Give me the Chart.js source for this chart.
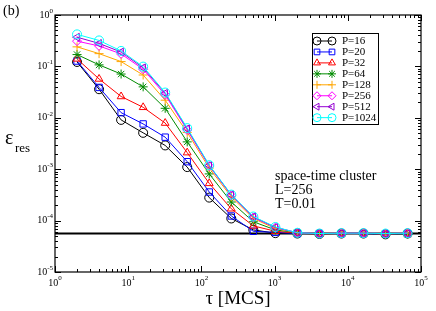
<!DOCTYPE html>
<html>
<head>
<meta charset="utf-8">
<script src="https://cdn.jsdelivr.net/npm/chart.js@4/dist/chart.umd.min.js"></script>
<style>
  body { margin: 0; background: #fff; }
  #wrap { width: 436px; height: 311px; }
</style>
</head>
<body>
<div id="wrap"><canvas id="chart" width="436" height="311"></canvas></div>
<script>
// MC steps (x values)
const tau = [2, 4, 8, 16, 32, 64, 128, 256, 512, 1024, 2048, 4096, 8192, 16384, 32768, 65536];

// residual energy for each P
const p16   = [0.122, 0.036, 0.0091, 0.0051, 0.0029, 0.0011, 2.8e-4, 1.1e-4, 6.6e-5, 5.7e-5, 5.6e-5, 5.5e-5, 5.6e-5, 5.6e-5, 5.4e-5, 5.6e-5];
const p20   = [0.127, 0.039, 0.0126, 0.0076, 0.0042, 0.0014, 3.6e-4, 1.23e-4, 6.2e-5, 5.9e-5, 5.6e-5, 5.6e-5, 5.6e-5, 5.6e-5, 5.5e-5, 5.6e-5];
const p32   = [0.14, 0.057, 0.026, 0.016, 0.0079, 0.0021, 5.3e-4, 1.7e-4, 7.9e-5, 6.2e-5, 5.7e-5, 5.5e-5, 5.7e-5, 5.7e-5, 5.5e-5, 5.7e-5];
const p64   = [0.17, 0.107, 0.071, 0.040, 0.0153, 0.0034, 8.1e-4, 2.3e-4, 9.5e-5, 6.6e-5, 5.8e-5, 5.6e-5, 5.7e-5, 5.7e-5, 5.5e-5, 5.5e-5];
const p128  = [0.24, 0.177, 0.124, 0.068, 0.022, 0.0052, 1.05e-3, 2.9e-4, 1.1e-4, 7.0e-5, 5.8e-5, 5.6e-5, 5.7e-5, 5.7e-5, 5.5e-5, 5.7e-5];
const p256  = [0.31, 0.25, 0.175, 0.088, 0.028, 0.0058, 1.15e-3, 3.1e-4, 1.15e-4, 7.3e-5, 5.8e-5, 5.6e-5, 5.7e-5, 5.7e-5, 5.6e-5, 5.7e-5];
const p512  = [0.37, 0.28, 0.19, 0.094, 0.030, 0.0061, 1.18e-3, 3.15e-4, 1.18e-4, 7.4e-5, 5.8e-5, 5.6e-5, 5.7e-5, 5.7e-5, 5.5e-5, 5.6e-5];
const p1024 = [0.42, 0.32, 0.20, 0.099, 0.031, 0.0063, 1.2e-3, 3.2e-4, 1.2e-4, 7.5e-5, 5.8e-5, 5.6e-5, 5.7e-5, 5.7e-5, 5.6e-5, 5.7e-5];

// ground-state reference line
const refLevel = 5.6e-5;
const refRange = [1, 1e5];

// axis tick decades
const xDecades = [0, 1, 2, 3, 4, 5];
const yDecades = [-5, -4, -3, -2, -1, 0];

const seriesNames = ['P=16', 'P=20', 'P=32', 'P=64', 'P=128', 'P=256', 'P=512', 'P=1024'];
const seriesData = [p16, p20, p32, p64, p128, p256, p512, p1024];
const colors = ['#000000', '#0000ff', '#ff0000', '#008b00', '#ffa500', '#ff00ff', '#9400d3', '#00ffff'];
const styles = ['circle', 'rect', 'triangle', 'star', 'cross', 'rectRot', 'triangle', 'circle'];
const rotations = [0, 0, 0, 0, 0, 0, -90, 0];

const datasets = seriesData.map((vals, i) => ({
    label: seriesNames[i],
    data: vals.map((v, j) => ({ x: tau[j], y: v })),
    borderColor: colors[i],
    backgroundColor: 'rgba(0,0,0,0)',
    borderWidth: 1,
    pointStyle: styles[i],
    pointRotation: rotations[i],
    pointRadius: 4.5,
    pointBorderWidth: 1,
    pointBorderColor: colors[i],
    pointBackgroundColor: 'rgba(0,0,0,0)',
    order: 7 - i
}));

datasets.push({
    label: 'ref',
    data: refRange.map(x => ({ x: x, y: refLevel })),
    borderColor: '#000',
    borderWidth: 2,
    pointRadius: 0,
    order: 20
});

const serif = '"Liberation Serif", "DejaVu Serif", serif';

// draws the frame, ticks, labels, legend and text
const decorPlugin = {
    id: 'decor',
    afterDraw(chart) {
        const ctx = chart.ctx;
        const area = chart.chartArea;
        const xs = chart.scales.x;
        const ys = chart.scales.y;
        ctx.save();
        ctx.strokeStyle = '#000';
        ctx.lineWidth = 1.2;
        ctx.strokeRect(area.left, area.top, area.right - area.left, area.bottom - area.top);

        ctx.lineWidth = 1;
        ctx.beginPath();
        xDecades.forEach(d => {
            for (let m = 1; m <= 9; m++) {
                if (d === 5 && m > 1) break;
                const px = Math.round(xs.getPixelForValue(m * Math.pow(10, d))) + 0.5;
                const len = m === 1 ? 6 : 3;
                ctx.moveTo(px, area.bottom); ctx.lineTo(px, area.bottom - len);
                ctx.moveTo(px, area.top); ctx.lineTo(px, area.top + len);
            }
        });
        yDecades.forEach(d => {
            for (let m = 1; m <= 9; m++) {
                if (d === 0 && m > 1) break;
                const py = Math.round(ys.getPixelForValue(m * Math.pow(10, d))) + 0.5;
                const len = m === 1 ? 6 : 3;
                ctx.moveTo(area.left, py); ctx.lineTo(area.left + len, py);
                ctx.moveTo(area.right, py); ctx.lineTo(area.right - len, py);
            }
        });
        ctx.stroke();

        // tick labels 10^n
        ctx.fillStyle = '#000';
        ctx.textBaseline = 'middle';
        const big = '10px ' + serif, small = '7px ' + serif;
        xDecades.forEach(d => {
            const px = xs.getPixelForValue(Math.pow(10, d));
            ctx.font = big; const w1 = ctx.measureText('10').width;
            ctx.font = small; const w2 = ctx.measureText(String(d)).width;
            const x0 = px - (w1 + w2) / 2;
            ctx.textAlign = 'left';
            ctx.font = big; ctx.fillText('10', x0, area.bottom + 11);
            ctx.font = small; ctx.fillText(String(d), x0 + w1, area.bottom + 6);
        });
        yDecades.forEach(d => {
            const py = ys.getPixelForValue(Math.pow(10, d));
            const sup = d === 0 ? '0' : '-' + Math.abs(d);
            ctx.font = small; const w2 = ctx.measureText(sup).width;
            ctx.font = big; const w1 = ctx.measureText('10').width;
            const x1 = area.left - 2;
            ctx.textAlign = 'left';
            ctx.font = big; ctx.fillText('10', x1 - w2 - w1, py);
            ctx.font = small; ctx.fillText(sup, x1 - w2, py - 4);
        });

        // axis titles
        ctx.textAlign = 'center';
        ctx.font = '19px ' + serif;
        ctx.fillText('\u03c4 [MCS]', (area.left + area.right) / 2, 299);
        ctx.textAlign = 'left';
        ctx.font = '20px ' + serif;
        ctx.fillText('\u03b5', 5, 139);
        ctx.font = '13px ' + serif;
        ctx.fillText('res', 15, 149);

        // panel label
        ctx.font = '14px ' + serif;
        ctx.fillText('(b)', 3, 11);

        // annotation
        ctx.font = '14px ' + serif;
        ['space-time cluster', 'L=256', 'T=0.01'].forEach((t, i) => {
            ctx.fillText(t, 275, 176 + i * 14);
        });

        // legend
        const lx = 312, ly = 33, lw = 66, lh = 91;
        ctx.lineWidth = 1;
        ctx.fillStyle = '#fff';
        ctx.fillRect(lx, ly, lw, lh);
        ctx.strokeRect(lx + 0.5, ly + 0.5, lw, lh);
        seriesNames.forEach((name, i) => {
            const y = 41 + i * 10.95;
            ctx.strokeStyle = colors[i];
            ctx.lineWidth = 1;
            ctx.beginPath();
            ctx.moveTo(317, y); ctx.lineTo(332, y);
            ctx.stroke();
            ctx.fillStyle = 'rgba(0,0,0,0)';
            [317, 332].forEach(mx => {
                Chart.helpers.drawPoint(ctx, {
                    pointStyle: styles[i], radius: 4, rotation: rotations[i], borderWidth: 1
                }, mx, y);
            });
            ctx.fillStyle = '#000';
            ctx.font = '11px ' + serif;
            ctx.textBaseline = 'middle';
            ctx.fillText(name, 342, y + 0.5);
        });
        ctx.restore();
    }
};

new Chart(document.getElementById('chart'), {
    type: 'line',
    data: { datasets: datasets },
    options: {
        responsive: false,
        animation: false,
        devicePixelRatio: 1,
        layout: { padding: { left: 55, top: 15, right: 15, bottom: 39 } },
        plugins: { legend: { display: false }, tooltip: { enabled: false } },
        scales: {
            x: { type: 'logarithmic', min: 1, max: 1e5, display: false },
            y: { type: 'logarithmic', min: 1e-5, max: 1, display: false }
        }
    },
    plugins: [decorPlugin]
});
</script>
</body>
</html>
